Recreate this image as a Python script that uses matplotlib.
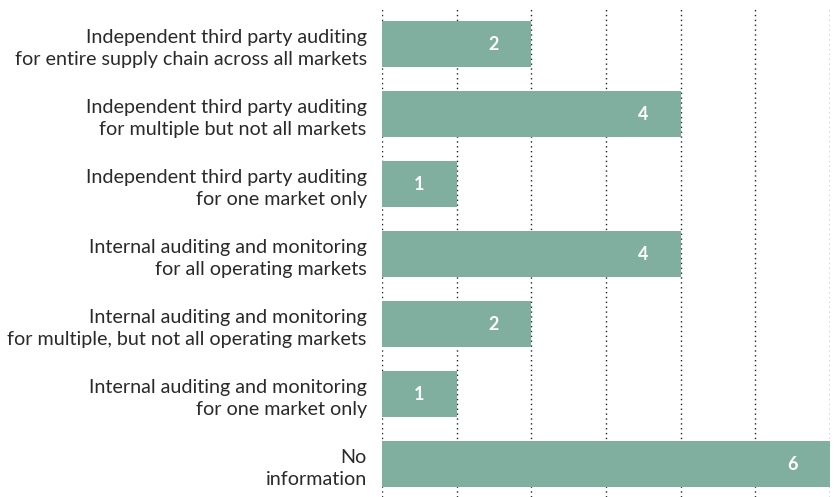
import matplotlib
matplotlib.use("Agg")
import matplotlib.pyplot as plt

categories = [
    "Independent third party auditing\nfor entire supply chain across all markets",
    "Independent third party auditing\nfor multiple but not all markets",
    "Independent third party auditing\nfor one market only",
    "Internal auditing and monitoring\nfor all operating markets",
    "Internal auditing and monitoring\nfor multiple, but not all operating markets",
    "Internal auditing and monitoring\nfor one market only",
    "No\ninformation",
]
counts = [2, 4, 1, 4, 2, 1, 6]
grid_ticks = [0, 1, 2, 3, 4, 5, 6]

plt.rcParams["font.family"] = ["Lato", "DejaVu Sans"]

fig = plt.figure(figsize=(8.34, 4.97), dpi=100)
ax = fig.add_axes([382 / 834, 0.0, 448 / 834, 489 / 497])

bar_color = "#80ae9f"
y = list(range(len(categories)))
ax.barh(y, counts, height=0.66, color=bar_color, zorder=2)

for yi, v in zip(y, counts):
    ax.text(v - 0.5, yi, str(v), ha="center", va="center",
            color="white", fontsize=13, fontweight="bold", zorder=3)

ax.set_xlim(0, 6)
ax.set_ylim(6.47, -0.52)
ax.set_xticks(grid_ticks)
ax.set_xticklabels([])
ax.set_yticks(y)
ax.set_yticklabels(categories, fontsize=14.2, color="#2a2a2a", linespacing=1.4)
ax.tick_params(axis="both", length=0, pad=11)
ax.grid(axis="x", color="#222222", linestyle=(0, (1, 2.5)), linewidth=1.0, zorder=1)
ax.grid(axis="y", visible=False)
for s in ax.spines.values():
    s.set_visible(False)

fig.savefig("out.png", dpi=100)
